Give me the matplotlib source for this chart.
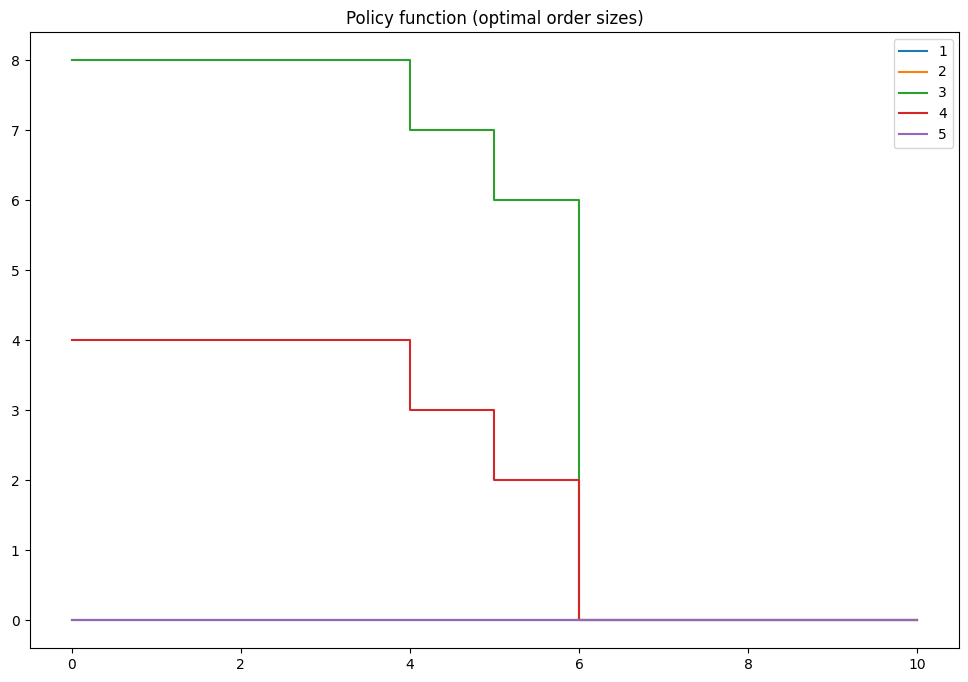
import numpy as np
from matplotlib import pyplot as plt

# inventory levels on x, one policy per series
x = np.arange(11)
labels = ["1", "2", "3", "4", "5"]
orders_1 = [0, 0, 0, 0, 0, 0, 0, 0, 0, 0, 0]
orders_2 = [0, 0, 0, 0, 0, 0, 0, 0, 0, 0, 0]
orders_3 = [8, 8, 8, 8, 7, 6, 0, 0, 0, 0, 0]
orders_4 = [4, 4, 4, 4, 3, 2, 0, 0, 0, 0, 0]
orders_5 = [0, 0, 0, 0, 0, 0, 0, 0, 0, 0, 0]

fig = plt.figure(figsize=(9.68, 6.82), dpi=100)
ax = fig.add_axes([29.5 / 968, 34 / 682, 930 / 968, 616 / 682])
for lab, y in zip(labels, [orders_1, orders_2, orders_3, orders_4, orders_5]):
    ax.step(x, y, where="post", label=lab)
ax.set_title("Policy function (optimal order sizes)")
ax.legend(loc="best")
fig.savefig("out.png")
